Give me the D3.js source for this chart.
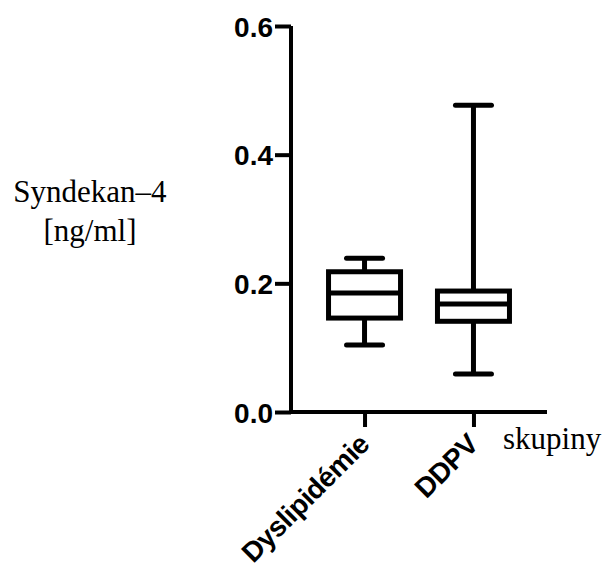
<!DOCTYPE html>
<html>
<head>
<meta charset="utf-8">
<script src="https://cdn.jsdelivr.net/npm/d3@7"></script>
<style>
  html, body { margin: 0; padding: 0; background: #fff; }
  svg { display: block; }
</style>
</head>
<body>
<div id="chart"></div>
<script>
// --- Data ---
const groups = ["Dyslipidémie", "DDPV"];
const mins    = [0.104, 0.059];
const q1s     = [0.146, 0.141];
const medians = [0.185, 0.168];
const q3s     = [0.218, 0.188];
const maxs    = [0.239, 0.477];
const yTicks = [0.0, 0.2, 0.4, 0.6];

const boxes = groups.map((g, i) => ({
    group: g, min: mins[i], q1: q1s[i], median: medians[i], q3: q3s[i], max: maxs[i]
}));

// --- Setup ---
const width = 609, height = 574;
const svg = d3.select("#chart").append("svg")
    .attr("width", width)
    .attr("height", height);

const axisX = 291, axisY = 412;

const y = d3.scaleLinear().domain([0, 0.6]).range([axisY, 26]);
const x = d3.scalePoint().domain(groups).range([axisX, 547]).padding(0.675);

const boxW = 72, capW = 36;
const black = "#000";
const sans = "'Liberation Sans', Arial, sans-serif";

// --- Axes ---
const yAxis = svg.append("g").attr("transform", `translate(${axisX},0)`)
    .call(d3.axisLeft(y).tickValues(yTicks).tickFormat(d3.format(".1f")).tickSize(16).tickSizeOuter(0));
yAxis.select(".domain").attr("stroke", black).attr("stroke-width", 4)
    .attr("d", `M0,${y(0.6)}V${axisY + 2}`);
yAxis.selectAll(".tick line").attr("stroke", black).attr("stroke-width", 4);
yAxis.selectAll(".tick text")
    .attr("x", -18)
    .attr("dy", "0.36em")
    .style("font-family", sans)
    .style("font-weight", "bold")
    .style("font-size", "28px")
    .attr("fill", black);

const xAxis = svg.append("g").attr("transform", `translate(0,${axisY})`)
    .call(d3.axisBottom(x).tickSize(15).tickSizeOuter(0));
xAxis.select(".domain").attr("stroke", black).attr("stroke-width", 4)
    .attr("d", `M${axisX - 2},0H547`);
xAxis.selectAll(".tick line").attr("stroke", black).attr("stroke-width", 4);
xAxis.selectAll(".tick text")
    .attr("text-anchor", "end")
    .attr("y", 0)
    .attr("dy", 0)
    .attr("transform", "translate(6,34) rotate(-45)")
    .style("font-family", sans)
    .style("font-weight", "bold")
    .style("font-size", "28px")
    .style("letter-spacing", "-0.5px")
    .attr("fill", black);

// --- Boxes ---
const bg = svg.append("g").attr("class", "boxes")
    .attr("stroke", black).attr("stroke-width", 5).attr("fill", "none");

const box = bg.selectAll("g").data(boxes).join("g");

// whiskers
box.append("line")
    .attr("x1", d => x(d.group)).attr("x2", d => x(d.group))
    .attr("y1", d => y(d.max)).attr("y2", d => y(d.q3));
box.append("line")
    .attr("x1", d => x(d.group)).attr("x2", d => x(d.group))
    .attr("y1", d => y(d.q1)).attr("y2", d => y(d.min));

// caps
box.selectAll(".cap").data(d => [d.min, d.max].map(v => ({ g: d.group, v })))
    .join("line").attr("class", "cap")
    .attr("stroke-linecap", "round")
    .attr("x1", d => x(d.g) - capW / 2).attr("x2", d => x(d.g) + capW / 2)
    .attr("y1", d => y(d.v)).attr("y2", d => y(d.v));

// box body
box.append("rect")
    .attr("x", d => x(d.group) - boxW / 2)
    .attr("width", boxW)
    .attr("y", d => y(d.q3))
    .attr("height", d => y(d.q1) - y(d.q3))
    .attr("fill", "#fff");

// median
box.append("line")
    .attr("x1", d => x(d.group) - boxW / 2).attr("x2", d => x(d.group) + boxW / 2)
    .attr("y1", d => y(d.median)).attr("y2", d => y(d.median));

// --- Titles ---
const serif = "'Liberation Serif', 'Times New Roman', serif";
const yTitle = svg.append("text")
    .attr("text-anchor", "middle")
    .style("font-family", serif)
    .style("font-size", "31px")
    .attr("fill", black);
yTitle.append("tspan").attr("x", 90).attr("y", 202).text("Syndekan–4");
yTitle.append("tspan").attr("x", 90).attr("y", 241).text("[ng/ml]");

svg.append("text")
    .attr("x", 503).attr("y", 449)
    .style("font-family", serif)
    .style("font-size", "31px")
    .attr("fill", black)
    .text("skupiny");
</script>
</body>
</html>
